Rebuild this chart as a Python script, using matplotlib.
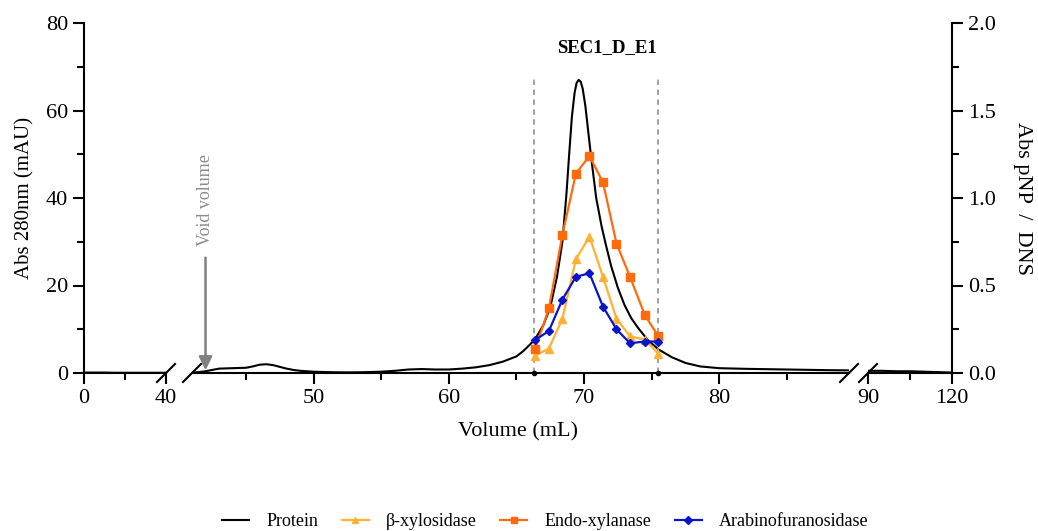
import matplotlib
matplotlib.use("Agg")
import matplotlib.pyplot as plt
from matplotlib.lines import Line2D
from matplotlib.ticker import MultipleLocator, FormatStrFormatter

plt.rcParams["font.family"] = ["Liberation Serif", "DejaVu Serif"]

# ---- data -------------------------------------------------------------
# protein trace (Abs 280 nm, mAU) in the three x-axis segments
prot_left_x = [0, 5, 10, 15, 20, 25, 30, 35, 40]
prot_left_y = [0.1, 0.1, 0.1, 0.05, 0.05, 0.05, 0.05, 0.05, 0.05]

prot_mid_x = [41.0, 41.5, 42.0, 42.5, 43.0, 44.0, 45.0, 45.5, 46.0, 46.5, 47.0,
              47.5, 48.0, 48.5, 49.0, 50.0, 51.0, 52.0, 53.0, 54.0, 55.0, 56.0,
              57.0, 58.0, 59.0, 60.0, 61.0, 62.0, 63.0, 64.0, 65.0, 65.5, 66.0,
              66.4, 67.0, 67.5, 68.0, 68.4, 68.7, 68.9, 69.1, 69.3, 69.45, 69.6,
              69.75, 69.9, 70.1, 70.5, 70.9, 71.3, 71.6, 72.0, 72.5, 73.0, 73.5,
              74.0, 74.7, 75.5, 76.5, 77.5, 78.6, 80.0, 82.0, 84.0, 86.0, 88.0,
              89.6]
prot_mid_y = [0.1, 0.2, 0.4, 0.7, 1.0, 1.1, 1.2, 1.5, 1.9, 2.0, 1.8,
              1.4, 1.0, 0.7, 0.5, 0.3, 0.2, 0.15, 0.15, 0.2, 0.3, 0.5,
              0.8, 0.9, 0.8, 0.8, 1.0, 1.3, 1.8, 2.6, 3.8, 5.0, 6.5,
              7.8, 11.0, 15.0, 22.0, 30.0, 41.0, 50.0, 58.5, 64.0, 66.3, 67.0,
              66.6, 65.0, 61.0, 50.0, 40.0, 33.5, 29.5, 24.5, 19.5, 15.5, 12.5,
              10.3, 7.6, 5.4, 3.6, 2.3, 1.5, 1.1, 0.95, 0.85, 0.75, 0.65,
              0.6]

prot_right_x = [90, 95, 100, 105, 110, 115, 120]
prot_right_y = [0.5, 0.5, 0.4, 0.4, 0.3, 0.2, 0.1]

# enzyme activity (Abs pNP / DNS) per fraction
frac_x = [66.4, 67.4, 68.4, 69.4, 70.4, 71.4, 72.4, 73.4, 74.5, 75.5]
xylosidase = [0.10, 0.14, 0.31, 0.65, 0.78, 0.55, 0.31, 0.21, 0.19, 0.11]
endo_xylanase = [0.14, 0.37, 0.79, 1.14, 1.24, 1.09, 0.74, 0.55, 0.33, 0.21]
arabino = [0.19, 0.24, 0.42, 0.55, 0.57, 0.38, 0.25, 0.17, 0.18, 0.18]

pool_bounds = [66.3, 75.5]
void_volume = 42.0

# ---- figure -----------------------------------------------------------
W, H = 1038, 531
fig = plt.figure(figsize=(W / 100, H / 100), dpi=100)

y0, y1 = 373, 23  # pixel rows of y=0 and y=80


def add_axes_px(xa, xb):
    return fig.add_axes([xa / W, 1 - y0 / H, (xb - xa) / W, (y0 - y1) / H])


ax1 = add_axes_px(84, 166)
ax2 = add_axes_px(192, 849)
ax3 = add_axes_px(868, 952)

c_xyl = "#FFB132"
c_endo = "#FF6A0A"
c_ara = "#0A14C8"

for ax, (xs, ys) in zip([ax1, ax2, ax3],
                        [(prot_left_x, prot_left_y), (prot_mid_x, prot_mid_y),
                         (prot_right_x, prot_right_y)]):
    ax.plot(xs, ys, color="black", lw=1.5)
    ax.set_ylim(0, 80)
    for s in ["top", "right", "left"]:
        ax.spines[s].set_visible(False)
    ax.spines["bottom"].set_linewidth(1.5)
    ax.tick_params(axis="both", which="major", direction="out", length=8,
                   width=1.5, labelsize=16)
    ax.tick_params(axis="both", which="minor", direction="out", length=5,
                   width=1.5)
    ax.patch.set_alpha(0)

ax1.set_xlim(0, 40)
ax1.set_xticks([0, 40])
ax1.xaxis.set_minor_locator(MultipleLocator(20))
ax1.spines["left"].set_visible(True)
ax1.spines["left"].set_linewidth(1.5)
ax1.yaxis.set_major_locator(MultipleLocator(20))
ax1.yaxis.set_minor_locator(MultipleLocator(10))
ax1.set_ylabel("Abs 280nm (mAU)", fontsize=15)
ax1.yaxis.set_label_coords(-(84 - 34) / (166 - 84), 0.5)

ax2.set_xlim(41.0, 89.6)
ax2.set_xticks([50, 60, 70, 80])
ax2.xaxis.set_minor_locator(MultipleLocator(5))
ax2.set_yticks([])
ax2.set_xlabel("Volume (mL)", fontsize=16, labelpad=4)
ax2.xaxis.set_label_coords((518 - 192) / (849 - 192), -0.14)

ax3.set_xlim(90, 120)
ax3.set_xticks([90, 120])
ax3.xaxis.set_minor_locator(MultipleLocator(15))
ax3.set_yticks([])

# pooled fraction bounds and void volume marker
for xv in pool_bounds:
    ax2.plot([xv, xv], [0, 67.5], color="#999999", ls=(0, (3, 2.5)), lw=1.3)
    ax2.plot([xv], [0], "o", color="black", ms=3, clip_on=False)
ax2.annotate("", xy=(void_volume, 0), xytext=(void_volume, 27),
             arrowprops=dict(arrowstyle="-|>,head_length=0.8,head_width=0.4",
                             color="#808080", lw=1.8))
ax2.text(void_volume, 29, "Void volume", rotation=90, color="#8C8C8C",
         fontsize=13, ha="center", va="bottom")
ax2.text(71.7, 74.5, "SEC1_D_E1", fontsize=13.5, fontweight="bold",
         ha="center", va="center")

# activity on the secondary axis
ax2r = ax2.twinx()
ax2r.set_ylim(0, 2.0)
ax2r.set_yticks([])
for s in ax2r.spines.values():
    s.set_visible(False)
ax2r.plot(frac_x, xylosidase, color=c_xyl, marker="^", ms=6, lw=1.6,
          label="\u03b2-xylosidase")
ax2r.plot(frac_x, endo_xylanase, color=c_endo, marker="s", ms=6, lw=1.6,
          label="Endo-xylanase")
ax2r.plot(frac_x, arabino, color=c_ara, marker="D", ms=4.5, lw=1.6,
          label="Arabinofuranosidase")

ax3r = ax3.twinx()
ax3r.set_ylim(0, 2.0)
for s in ["top", "left", "bottom"]:
    ax3r.spines[s].set_visible(False)
ax3r.spines["right"].set_linewidth(1.5)
ax3r.yaxis.set_major_locator(MultipleLocator(0.5))
ax3r.yaxis.set_minor_locator(MultipleLocator(0.25))
ax3r.yaxis.set_major_formatter(FormatStrFormatter("%.1f"))
ax3r.tick_params(axis="y", which="major", direction="out", length=8,
                 width=1.5, labelsize=16)
ax3r.tick_params(axis="y", which="minor", direction="out", length=5,
                 width=1.5)
ax3r.set_ylabel("Abs pNP  /  DNS", fontsize=16, rotation=270)
ax3r.yaxis.set_label_coords(1 + (1032 - 952) / (952 - 868), 0.5)

# axis break marks
for cx in [166, 192, 849, 868]:
    fig.add_artist(Line2D([(cx - 9) / W, (cx + 9) / W],
                          [1 - (y0 + 9) / H, 1 - (y0 - 9) / H],
                          color="black", lw=1.5))

handles = [Line2D([], [], color="black", lw=1.5, label="Protein"),
           Line2D([], [], color=c_xyl, marker="^", ms=5, lw=1.6,
                  label="\u03b2-xylosidase"),
           Line2D([], [], color=c_endo, marker="s", ms=5, lw=1.6,
                  label="Endo-xylanase"),
           Line2D([], [], color=c_ara, marker="D", ms=4, lw=1.6,
                  label="Arabinofuranosidase")]
fig.legend(handles=handles, loc="center", bbox_to_anchor=(0.5255, 0.018),
           ncol=4, frameon=False, fontsize=13, handlelength=1.5,
           columnspacing=1.3, handletextpad=0.95)

fig.savefig("out.png", dpi=100)
